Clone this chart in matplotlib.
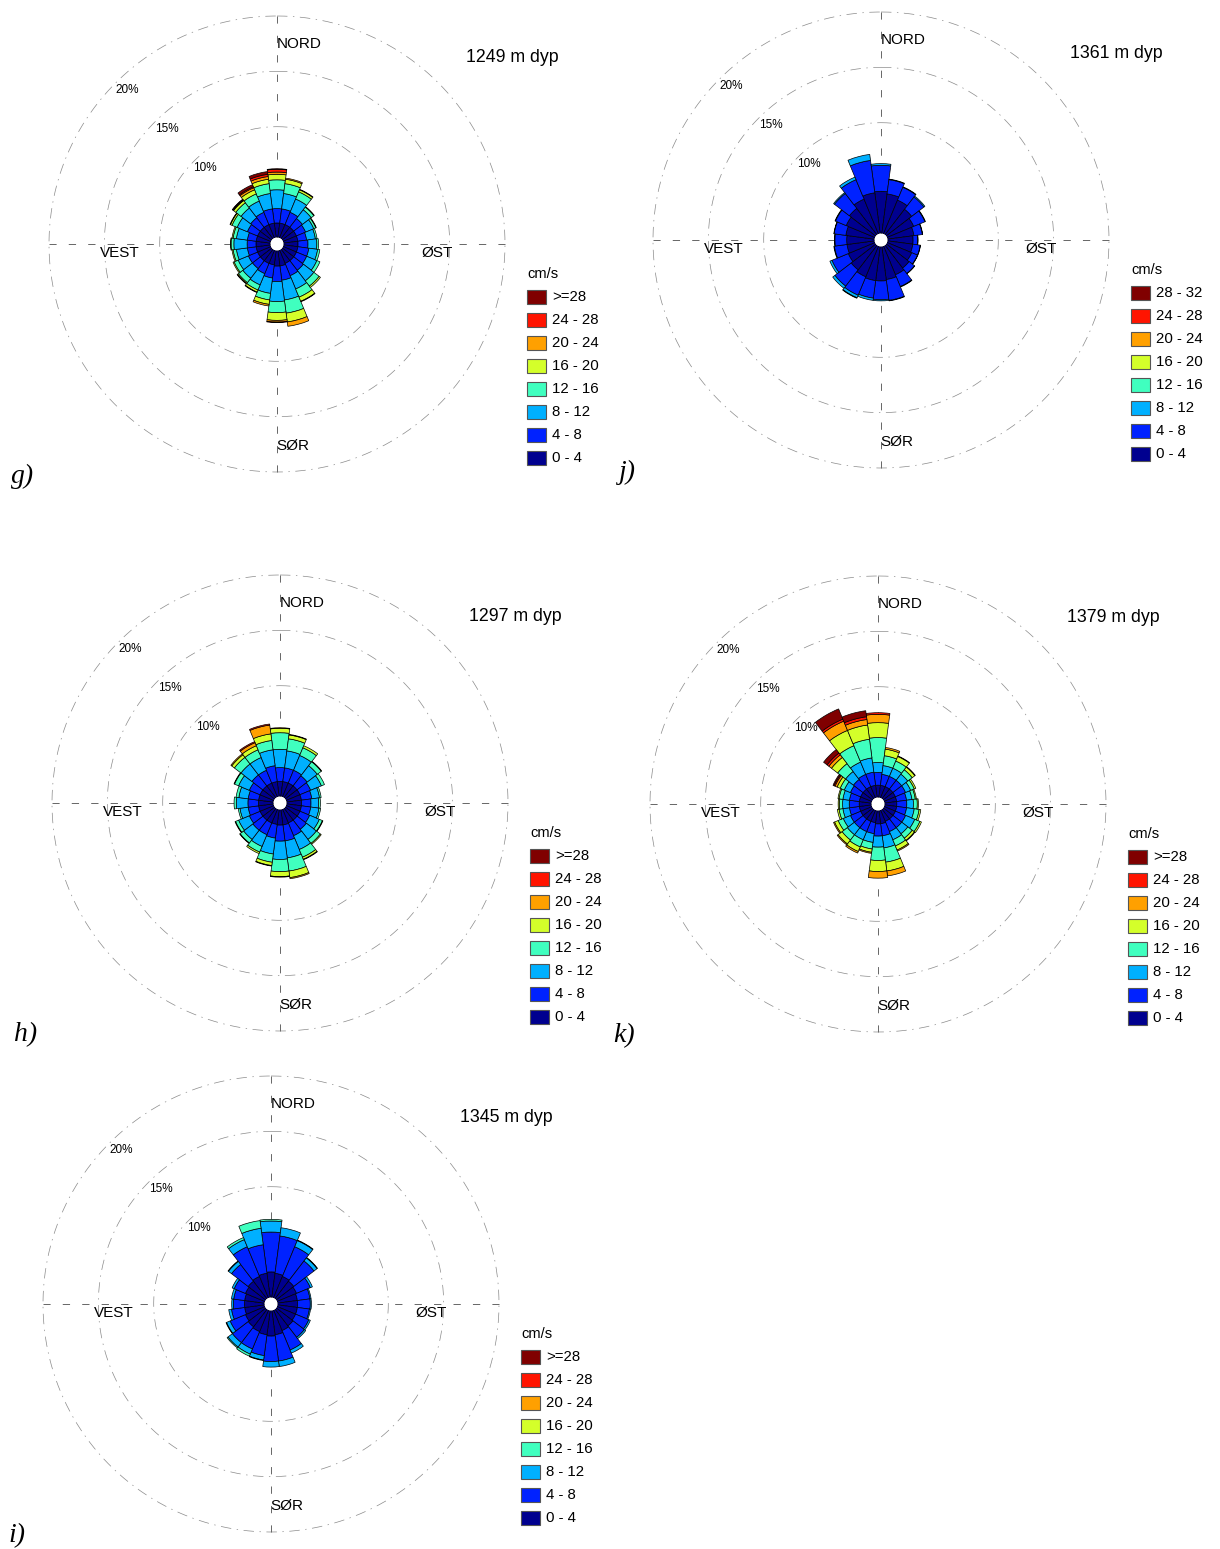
import numpy as np
import matplotlib
matplotlib.use("Agg")
import matplotlib.pyplot as plt
from matplotlib.patches import Rectangle

plt.rcParams['font.family'] = ['Liberation Sans', 'DejaVu Sans']

W, H = 1220, 1549
R_PX = 228  # pixel radius of the 20 % circle

# sector centres, degrees clockwise from north (15 degree sectors)
directions = np.arange(0, 360, 15)

speed_colors = ['#00008f', '#0022ff', '#00b0ff', '#40ffbf',
                '#d4ff2a', '#ffa000', '#ff1400', '#800000']
legend_std = ['0 - 4', '4 - 8', '8 - 12', '12 - 16', '16 - 20', '20 - 24', '24 - 28', '>=28']
legend_1361 = ['0 - 4', '4 - 8', '8 - 12', '12 - 16', '16 - 20', '20 - 24', '24 - 28', '28 - 32']

# percent of records per direction (rows) and speed class (columns, cm/s)
rose_1249 = [
    [1.3, 1.3, 1.7, 0.9, 0.5, 0.2, 0.25, 0.05],
    [1.3, 1.3, 1.4, 0.9, 0.4, 0.1],
    [1.3, 1.2, 1.3, 0.7, 0.2, 0.05],
    [1.3, 1.0, 1.0, 0.3, 0.05],
    [1.3, 0.9, 0.8, 0.2, 0.05],
    [1.3, 0.8, 0.8, 0.15],
    [1.3, 0.9, 0.8, 0.15],
    [1.3, 1.0, 0.8, 0.2],
    [1.3, 1.0, 1.0, 0.3],
    [1.3, 1.1, 1.2, 0.6, 0.15],
    [1.3, 1.2, 1.3, 0.8, 0.4, 0.05],
    [1.4, 1.3, 1.8, 1.2, 0.8, 0.4],
    [1.4, 1.4, 1.8, 1.0, 0.7, 0.15, 0.05],
    [1.3, 1.2, 1.4, 0.6, 0.4, 0.15],
    [1.3, 1.0, 1.1, 0.5, 0.2, 0.05],
    [1.3, 0.9, 1.1, 0.5, 0.1, 0.05],
    [1.3, 0.9, 1.0, 0.4, 0.1],
    [1.3, 0.8, 1.0, 0.3, 0.1],
    [1.3, 0.8, 1.2, 0.25, 0.05],
    [1.3, 0.8, 1.0, 0.3, 0.1],
    [1.3, 1.0, 1.0, 0.5, 0.15, 0.05],
    [1.3, 1.1, 1.1, 0.6, 0.25, 0.05, 0.05, 0.05],
    [1.3, 1.2, 1.1, 0.7, 0.4, 0.2, 0.1, 0.2],
    [1.3, 1.3, 1.4, 0.9, 0.4, 0.25, 0.2, 0.25],
]

rose_1297 = [
    [1.35, 1.25, 1.65, 1.5, 0.4, 0.05],
    [1.35, 1.25, 1.55, 1.1, 0.35, 0.05],
    [1.35, 1.25, 1.45, 0.75, 0.2],
    [1.35, 1.15, 1.15, 0.45, 0.05],
    [1.35, 1.05, 1.05, 0.3],
    [1.35, 0.95, 0.7, 0.15],
    [1.35, 0.85, 0.7, 0.15],
    [1.35, 0.85, 0.75, 0.15],
    [1.35, 0.95, 0.95, 0.3, 0.05],
    [1.35, 1.05, 1.15, 0.45, 0.1],
    [1.35, 1.25, 1.35, 0.75, 0.2, 0.05],
    [1.4, 1.45, 1.55, 1.2, 0.6, 0.1],
    [1.4, 1.45, 1.65, 1.1, 0.45, 0.05],
    [1.35, 1.25, 1.45, 0.75, 0.3, 0.05],
    [1.35, 1.15, 1.15, 0.55, 0.15],
    [1.35, 1.15, 1.05, 0.4, 0.05],
    [1.35, 1.05, 1.05, 0.3, 0.05],
    [1.35, 0.95, 0.75, 0.15],
    [1.35, 0.95, 1.05, 0.2],
    [1.35, 0.95, 0.85, 0.25],
    [1.35, 1.05, 1.05, 0.4, 0.05],
    [1.35, 1.25, 1.25, 0.75, 0.3, 0.1],
    [1.35, 1.25, 1.25, 0.75, 0.4, 0.3, 0.1],
    [1.35, 1.45, 1.45, 0.85, 0.6, 0.8, 0.1],
]

rose_1345 = [
    [2.3, 3.6, 1.0, 0.15],
    [2.2, 3.4, 0.75],
    [2.1, 2.9, 0.6, 0.05],
    [2.0, 2.3, 0.35, 0.05],
    [1.9, 1.35, 0.2],
    [1.8, 1.15, 0.1],
    [1.8, 1.15, 0.1],
    [1.8, 1.1, 0.1],
    [1.8, 1.3, 0.15],
    [1.9, 1.3, 0.15],
    [2.0, 1.9, 0.3],
    [2.2, 2.4, 0.5],
    [2.3, 2.3, 0.5],
    [2.2, 1.9, 0.4, 0.05],
    [2.1, 1.7, 0.5, 0.2],
    [2.0, 1.8, 0.5, 0.1],
    [1.9, 1.5, 0.35, 0.05],
    [1.8, 1.2, 0.25],
    [1.8, 1.0, 0.15],
    [1.8, 1.0, 0.2],
    [1.9, 1.1, 0.2],
    [2.0, 1.9, 0.35, 0.05],
    [2.1, 2.9, 0.7, 0.2],
    [2.2, 2.6, 1.5, 0.7],
]

rose_1361 = [
    [3.8, 2.35, 0.15],
    [3.6, 1.3, 0.05],
    [3.3, 1.25, 0.05],
    [2.9, 1.4, 0.1],
    [2.6, 1.1, 0.05],
    [2.4, 0.77, 0.03],
    [2.3, 0.42, 0.03],
    [2.3, 0.67, 0.03],
    [2.4, 0.57, 0.03],
    [2.6, 0.62, 0.03],
    [2.8, 1.15, 0.05],
    [3.0, 1.9, 0.05],
    [3.1, 1.7, 0.1],
    [3.1, 1.6, 0.2],
    [3.0, 1.8, 0.25, 0.05],
    [2.8, 1.85, 0.25],
    [2.6, 1.6, 0.2],
    [2.5, 1.15, 0.05],
    [2.5, 1.07, 0.03],
    [2.6, 1.07, 0.03],
    [2.8, 1.05, 0.05],
    [3.0, 1.7, 0.1],
    [3.4, 1.9, 0.25],
    [3.7, 2.95, 0.55],
]

rose_1379 = [
    [1.1, 1.15, 0.9, 2.25, 1.35, 0.75, 0.15],
    [1.1, 1.0, 0.8, 0.9, 0.6, 0.15],
    [1.1, 1.0, 0.8, 0.7, 0.45, 0.05],
    [1.1, 1.0, 0.7, 0.5, 0.3, 0.05],
    [1.1, 1.0, 0.5, 0.35, 0.15],
    [1.1, 0.9, 0.5, 0.3, 0.1],
    [1.1, 0.9, 0.6, 0.35, 0.1],
    [1.1, 0.9, 0.7, 0.45, 0.15],
    [1.1, 1.0, 0.9, 0.5, 0.15],
    [1.1, 1.0, 0.7, 0.5, 0.25, 0.05],
    [1.1, 1.0, 0.8, 0.6, 0.4, 0.1],
    [1.2, 1.1, 1.1, 1.3, 0.8, 0.45],
    [1.2, 1.1, 1.0, 1.2, 1.0, 0.6],
    [1.1, 1.0, 0.8, 0.6, 0.3, 0.1],
    [1.1, 1.0, 0.8, 0.7, 0.45, 0.15],
    [1.1, 1.0, 0.8, 0.6, 0.45, 0.1],
    [1.1, 1.0, 0.7, 0.5, 0.35, 0.1],
    [1.1, 0.9, 0.6, 0.35, 0.15],
    [1.1, 0.9, 0.6, 0.3, 0.1],
    [1.1, 0.9, 0.6, 0.35, 0.1],
    [1.1, 1.0, 0.6, 0.4, 0.3, 0.2, 0.1, 0.1],
    [1.1, 1.1, 0.9, 0.9, 0.7, 0.3, 0.2, 0.4],
    [1.1, 1.2, 1.2, 1.6, 1.5, 0.9, 0.2, 1.0],
    [1.1, 1.2, 1.3, 1.7, 1.3, 0.5, 0.25, 0.55],
]

# (centre x, centre y in pixels, title, panel letter, data, legend labels)
panels = [
    (277, 244, '1249 m dyp', 'g)', rose_1249, legend_std),
    (881, 240, '1361 m dyp', 'j)', rose_1361, legend_1361),
    (280, 803, '1297 m dyp', 'h)', rose_1297, legend_std),
    (878, 804, '1379 m dyp', 'k)', rose_1379, legend_std),
    (271, 1304, '1345 m dyp', 'i)', rose_1345, legend_std),
]

R_ORIGIN = -0.6
R_MAX = 20


def fx(x):
    return x / W


def fy(y):
    return 1 - y / H


fig = plt.figure(figsize=(W / 100, H / 100), dpi=100)

for cx, cy, title, letter, rows, leg in panels:
    ax = fig.add_axes([fx(cx - R_PX), fy(cy + R_PX), 2 * R_PX / W, 2 * R_PX / H],
                      projection='polar')
    ax.set_theta_zero_location('N')
    ax.set_theta_direction(-1)
    ax.set_ylim(0, R_MAX)
    ax.set_rorigin(R_ORIGIN)
    ax.axis('off')

    # grid circles and the cross
    t = np.linspace(0, 2 * np.pi, 400)
    for r in [10, 15, 20]:
        ax.plot(t, np.full_like(t, r), color='#8a8a8a', lw=0.5,
                ls=(0, (15, 8, 2, 8)), clip_on=False, zorder=1)
    for a in [0, 90, 180, 270]:
        ax.plot([np.radians(a)] * 2, [0, R_MAX], color='#666666', lw=0.7,
                ls=(0, (7.5, 12.5)), clip_on=False, zorder=1)

    # stacked sectors
    data = np.zeros((len(directions), 8))
    for i, row in enumerate(rows):
        data[i, :len(row)] = row
    theta = np.radians(directions)
    bottom = np.zeros(len(directions))
    for k in range(8):
        h = data[:, k]
        m = h > 0
        ax.bar(theta[m], h[m], width=np.radians(15), bottom=bottom[m],
               color=speed_colors[k], edgecolor='black', linewidth=0.5, zorder=3)
        bottom += h

    # labels round the rose
    for txt, dx, dy, fs in [('NORD', 22, -200, 11), ('VEST', -157, 9, 11),
                            ('ØST', 160, 9, 11), ('SØR', 16, 202, 11),
                            ('20%', -150, -154, 8.5), ('15%', -110, -115, 8.5),
                            ('10%', -72, -76, 8.5)]:
        fig.text(fx(cx + dx), fy(cy + dy), txt, ha='center', va='center', fontsize=fs)

    fig.text(fx(cx + 235), fy(cy - 186), title, ha='center', va='center', fontsize=12.8)
    fig.text(fx(cx - 254), fy(cy + 232), letter, ha='center', va='center', fontsize=20,
             family='Liberation Serif', style='italic')

    # legend
    fig.text(fx(cx + 250), fy(cy + 30), 'cm/s', ha='left', va='center', fontsize=10.5)
    for j in range(8):
        k = 7 - j
        yc = cy + 53 + 23 * j
        fig.add_artist(Rectangle((fx(cx + 250), fy(yc + 7)), 19 / W, 14 / H,
                                 transform=fig.transFigure, facecolor=speed_colors[k],
                                 edgecolor='#555555', linewidth=0.8))
        fig.text(fx(cx + 275), fy(yc), leg[k], ha='left', va='center', fontsize=10.8)

fig.savefig('out.png', dpi=100, facecolor='white')
